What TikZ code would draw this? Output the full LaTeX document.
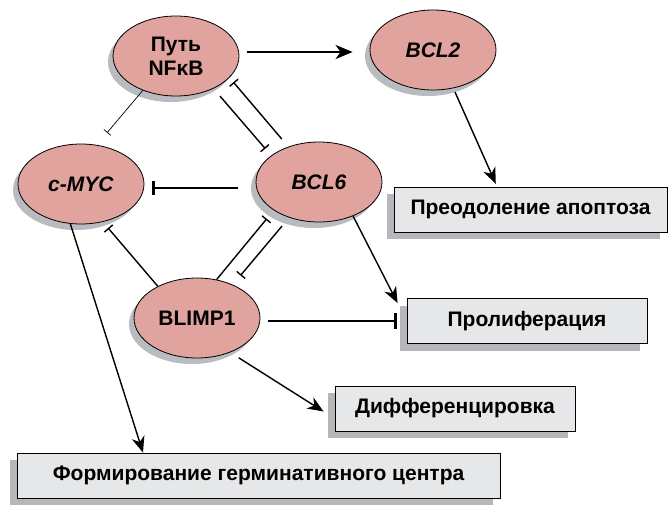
\documentclass[tikz,border=0pt]{standalone}
\usepackage{fontspec}
\setmainfont{Liberation Sans}
\usetikzlibrary{shapes.geometric,shadows,arrows.meta}
\definecolor{genepink}{RGB}{224,163,158}
\definecolor{geneshadow}{RGB}{184,187,191}
\definecolor{boxgray}{RGB}{230,231,232}
\definecolor{boxshadow}{RGB}{181,183,186}

\begin{document}
\begin{tikzpicture}[x=1pt,y=-1pt,
    gene/.style={ellipse,draw=black,line width=0.8pt,fill=genepink,
        minimum width=126pt,minimum height=80pt,inner sep=0pt,
        font=\fontsize{21}{24}\selectfont\bfseries,
        drop shadow={shadow xshift=-5pt,shadow yshift=-6pt,fill=geneshadow,opacity=1}},
    effect/.style={rectangle,draw=black,line width=0.9pt,fill=boxgray,
        minimum height=45pt,inner sep=0pt,
        font=\fontsize{21}{24}\selectfont\bfseries,
        drop shadow={shadow xshift=-7pt,shadow yshift=-7pt,fill=boxshadow,opacity=1}},
    act/.style={-{Stealth[length=16pt,width=13pt,inset=5pt]},line width=1.4pt},
    inh/.style={-{Bar[width=11pt]},line width=1.4pt}]
        \useasboundingbox (0,0) rectangle (671,504);
        % genes
        \node[gene,align=center] (nfkb) at (176,56) {Путь\\NFκB};
        \foreach \name/\x/\y/\txt in {bcl2/433/50/\textit{BCL2},cmyc/81/184/\textit{c-MYC},
                bcl6/319/182/\textit{BCL6},blimp/197/318/BLIMP1}{
            \node[gene] (\name) at (\x,\y) {\txt};
        }
        % outcomes
        \foreach \name/\x/\y/\w/\txt in {apop/530.5/209.5/273/Преодоление апоптоза,
                prolif/527/321/240/Пролиферация,diff/455/408.5/240/Дифференцировка,
                germ/258.5/475.5/483/Формирование герминативного центра}{
            \node[effect,minimum width=\w pt] (\name) at (\x,\y) {\txt};
        }
        % activation
        \draw[act,line width=2.5pt,-{Stealth[length=17pt,width=14pt,inset=5pt]}]
            ([shift={(8,-4)}]nfkb.east) -- ([shift={(-17,2)}]bcl2.west);
        \draw[act,shorten <=4pt,shorten >=3pt] (bcl2.-62) -- ([shift={(-33.5,0)}]apop.north);
        \draw[act] (bcl6.-45) -- ([shift={(-9,5)}]prolif.north west);
        \draw[act,shorten <=10pt] (blimp.-46) -- ([shift={(-11,3)}]diff.west);
        \draw[act] (cmyc.-105) -- ([shift={(-115.5,0)}]germ.north);
        % inhibition
        \foreach \a/\b/\sa/\sb in {nfkb.-41/bcl6.151/10/9,bcl6.131/nfkb.-22/10/6,
                blimp.63/bcl6.-148/0/11,bcl6.-130/blimp.43/11/12,blimp.141/cmyc.-60/0/8}{
            \draw[inh,shorten <=\sa pt,shorten >=\sb pt] (\a) -- (\b);
        }
        \draw[inh,line width=0.7pt,-{Bar[width=9pt]},shorten >=16pt] (nfkb.-134) -- (cmyc.68);
        \draw[inh,line width=2.5pt,-{Bar[width=14pt]}]
            ([shift={(-18,6)}]bcl6.west) -- ([shift={(8,4)}]cmyc.east);
        \draw[inh,line width=2.5pt,-{Bar[width=16pt]}]
            ([shift={(8,3)}]blimp.east) -- ([shift={(-10,0)}]prolif.west);
\end{tikzpicture}
\end{document}
